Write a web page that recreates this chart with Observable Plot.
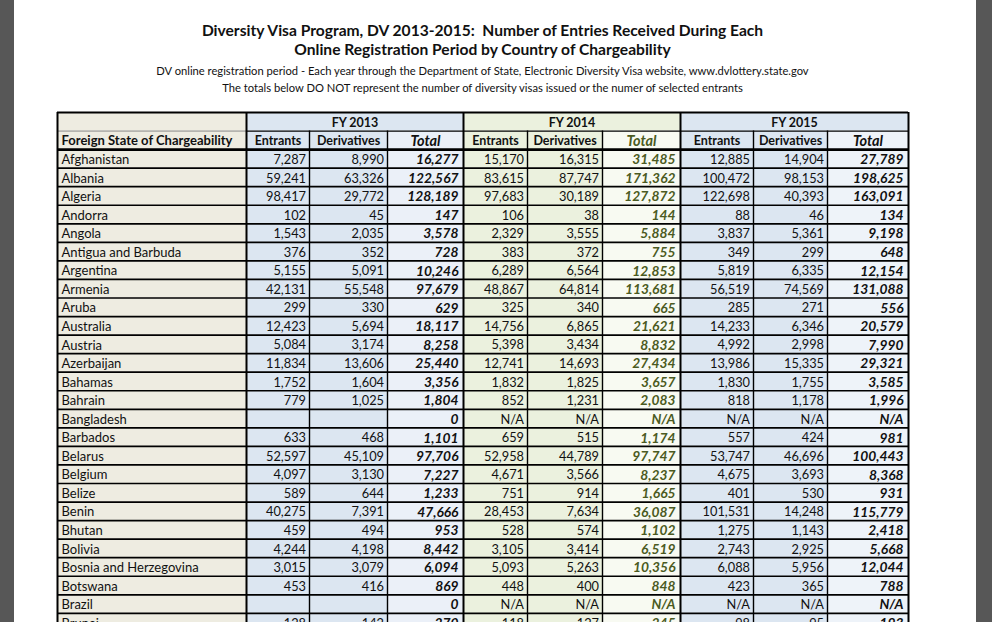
<!DOCTYPE html>
<html><head><meta charset="utf-8">
<script src="https://cdn.jsdelivr.net/npm/d3@7"></script>
<script src="https://cdn.jsdelivr.net/npm/@observablehq/plot@0.6"></script>
<style>
html,body{margin:0;padding:0;background:#575757;}
body{width:992px;height:622px;overflow:hidden;position:relative;font-family:Lato,sans-serif;}
#page{position:absolute;left:14px;top:0;width:962px;height:622px;background:#fff;overflow:hidden;}
#title{height:105px;margin-left:43px;width:851px;text-align:center;color:#111;}
.t1{font-weight:bold;font-size:15.6px;line-height:19px;}
.t2{font-size:11.2px;line-height:17px;}
#chart svg{display:block;}
</style></head>
<body>
<div id="page">
  <div id="title">
    <div class="t1" style="padding-top:21px">Diversity Visa Program, DV 2013-2015:&nbsp; Number of Entries Received During Each</div>
    <div class="t1">Online Registration Period by Country of Chargeability</div>
    <div class="t2" style="margin-top:3px">DV online registration period - Each year through the Department of State, Electronic Diversity Visa website, www.dvlottery.state.gov</div>
    <div class="t2">The totals below DO NOT represent the number of diversity visas issued or the numer of selected entrants</div>
  </div>
  <div id="chart"></div>
</div>
<script>
const years = ["FY 2013", "FY 2014", "FY 2015"];
const colHeads = ["Entrants", "Derivatives", "Total"];
const firstHead = "Foreign State of Chargeability";
const countries = ["Afghanistan","Albania","Algeria","Andorra","Angola","Antigua and Barbuda","Argentina","Armenia","Aruba","Australia","Austria","Azerbaijan","Bahamas","Bahrain","Bangladesh","Barbados","Belarus","Belgium","Belize","Benin","Bhutan","Bolivia","Bosnia and Herzegovina","Botswana","Brazil","Brunei"];
const entrants2013 = [7287,59241,98417,102,1543,376,5155,42131,299,12423,5084,11834,1752,779,null,633,52597,4097,589,40275,459,4244,3015,453,null,128];
const derivatives2013 = [8990,63326,29772,45,2035,352,5091,55548,330,5694,3174,13606,1604,1025,null,468,45109,3130,644,7391,494,4198,3079,416,null,142];
const total2013 = [16277,122567,128189,147,3578,728,10246,97679,629,18117,8258,25440,3356,1804,0,1101,97706,7227,1233,47666,953,8442,6094,869,0,270];
const entrants2014 = [15170,83615,97683,106,2329,383,6289,48867,325,14756,5398,12741,1832,852,"N/A",659,52958,4671,751,28453,528,3105,5093,448,"N/A",118];
const derivatives2014 = [16315,87747,30189,38,3555,372,6564,64814,340,6865,3434,14693,1825,1231,"N/A",515,44789,3566,914,7634,574,3414,5263,400,"N/A",127];
const total2014 = [31485,171362,127872,144,5884,755,12853,113681,665,21621,8832,27434,3657,2083,"N/A",1174,97747,8237,1665,36087,1102,6519,10356,848,"N/A",245];
const entrants2015 = [12885,100472,122698,88,3837,349,5819,56519,285,14233,4992,13986,1830,818,"N/A",557,53747,4675,401,101531,1275,2743,6088,423,"N/A",98];
const derivatives2015 = [14904,98153,40393,46,5361,299,6335,74569,271,6346,2998,15335,1755,1178,"N/A",424,46696,3693,530,14248,1143,2925,5956,365,"N/A",95];
const total2015 = [27789,198625,163091,134,9198,648,12154,131088,556,20579,7990,29321,3585,1996,"N/A",981,100443,8368,931,115779,2418,5668,12044,788,"N/A",193];

// layout
const left = 43;
const widths = [189,63,78,76,64,75,78,73,74,81];
const edges = [left]; widths.forEach(w => edges.push(edges[edges.length-1] + w));
const BEIGE = "#EEECE1", BLUE = "#DCE6F1", GREEN = "#EBF1DE";
const colFill = [BEIGE, BLUE, BLUE, "#EBF0F8", GREEN, GREEN, "#F8FAF2", BLUE, BLUE, "#EEF3F9"];
const series = [entrants2013, derivatives2013, total2013, entrants2014, derivatives2014, total2014, entrants2015, derivatives2015, total2015];
const fmt = v => v == null ? "" : (typeof v === "number" ? d3.format(",")(v) : v);

const bgCells = [];
const numCells = [];
const totCells = [];
const nameCells = [];
bgCells.push({r:0, x1:edges[0], x2:edges[1], fill:BEIGE});
years.forEach((y,g)=>bgCells.push({r:0, x1:edges[1+3*g], x2:edges[4+3*g], fill: g===1?GREEN:BLUE, label:y}));
for (let c=0;c<10;c++) bgCells.push({r:1, x1:edges[c], x2:edges[c+1], fill: colFill[c]});
countries.forEach((name,i)=>{
  const r = i+2;
  bgCells.push({r, x1:edges[0], x2:edges[1], fill:BEIGE});
  nameCells.push({r, x:edges[0]+4, text:name});
  series.forEach((s,k)=>{
    const c = k+1;
    bgCells.push({r, x1:edges[c], x2:edges[c+1], fill:colFill[c]});
    const cell = {r, x:edges[c+1], text:fmt(s[i]), color: k===5 ? "#4B5A22" : "#111"};
    if (k%3===2) totCells.push(cell); else numCells.push(cell);
  });
});
const headCells = [];
years.forEach((y,g)=>colHeads.forEach((h,j)=>{
  const c = 1+3*g+j;
  headCells.push({x:(edges[c]+edges[c+1])/2, text:h, total: j===2, color: (g===1 && j===2) ? "#4B5A22" : "#111"});
}));
const fyCells = years.map((y,g)=>({x:(edges[1+3*g]+edges[4+3*g])/2, text:y}));

const nRows = countries.length + 2;
const hLines = d3.range(3, nRows+1);
const groupEdges = [edges[0], edges[1], edges[4], edges[7], edges[10]];
const innerEdges = [edges[2], edges[3], edges[5], edges[6], edges[8], edges[9]];

const chart = Plot.plot({
  width: 962, height: 517, margin: 0,
  x: {domain:[0,962], range:[0,962], axis:null},
  y: {domain:[0,28], range:[7, 7+28*18.55], axis:null},
  color: {type:"identity"},
  marks: [
    Plot.rectX(bgCells, {x1:"x1", x2:"x2", y1:d=>d.r, y2:d=>d.r+1, fill:"fill"}),
    Plot.ruleY(hLines, {y:d=>d, x1:edges[0], x2:edges[10], stroke:"#000", strokeWidth:1.7}),
    Plot.ruleY([1], {x1:edges[0], x2:edges[1], stroke:"#888", strokeWidth:1}),
    Plot.ruleY([1], {x1:edges[1], x2:edges[10], stroke:"#000", strokeWidth:1.2}),
    Plot.ruleY([0], {x1:edges[0], x2:edges[10], stroke:"#000", strokeWidth:2}),
    Plot.ruleY([2], {x1:edges[0], x2:edges[10], stroke:"#000", strokeWidth:2.6}),
    Plot.ruleX(groupEdges, {x:d=>d, y1:0, y2:nRows, stroke:"#000", strokeWidth:2}),
    Plot.ruleX(innerEdges, {x:d=>d, y1:1, y2:nRows, stroke:"#000", strokeWidth:1.4}),
    Plot.text(fyCells, {x:"x", y:()=>0.5, dy:1, text:"text", fontWeight:"bold", fontSize:12.5, fill:"#111"}),
    Plot.text([firstHead], {x:()=>edges[0]+4, y:()=>1.5, dy:1, text:d=>d, textAnchor:"start", fontWeight:"bold", fontSize:13, fill:"#111"}),
    Plot.text(headCells.filter(d=>!d.total), {x:"x", y:()=>1.5, dy:1, text:"text", fontWeight:"bold", fontSize:12.5, fill:"color"}),
    Plot.text(headCells.filter(d=>d.total), {x:"x", y:()=>1.5, dy:1, text:"text", fontWeight:"bold", fontStyle:"italic", fontSize:14.5, fill:"color"}),
    Plot.text(nameCells, {x:"x", y:d=>d.r+0.5, dy:1, text:"text", textAnchor:"start", fontSize:13, fill:"#111"}),
    Plot.text(numCells, {x:"x", y:d=>d.r+0.5, dy:1, text:"text", textAnchor:"end", dx:-3.5, fontSize:12.8, fill:"color"}),
    Plot.text(totCells, {x:"x", y:d=>d.r+0.5, dy:1, text:"text", textAnchor:"end", dx:-5, fontSize:13.8, fontWeight:"bold", fontStyle:"italic", fill:"color"})
  ]
});
chart.style.fontFamily = "Lato, sans-serif";
chart.style.overflow = "visible";
document.getElementById("chart").appendChild(chart);
</script>
</body></html>
